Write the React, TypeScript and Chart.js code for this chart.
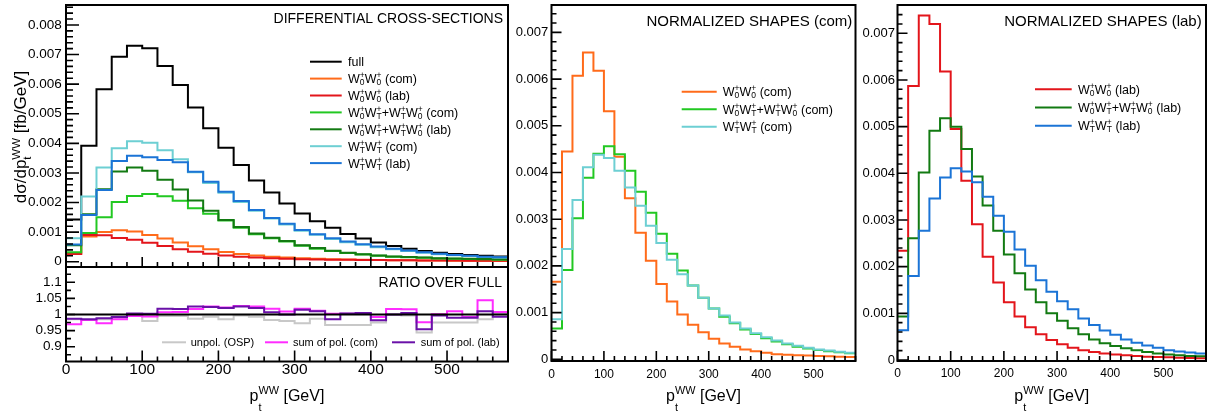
import { useEffect, useRef } from 'react';
import { Chart, registerables } from 'chart.js';

Chart.register(...registerables);

const FONT = '"Liberation Sans", Arial, Helvetica, sans-serif';
Chart.defaults.font.family = FONT;
Chart.defaults.color = '#000';

// ---------------- data ----------------
const binLow = [0, 20, 40, 60, 80, 100, 120, 140, 160, 180, 200, 220, 240, 260, 280, 300, 320, 340, 360, 380, 400, 420, 440, 460, 480, 500, 520, 540, 560];
const xUpper = 580;
const xTickValues = [0, 100, 200, 300, 400, 500];
const yTicksMain = [0, 0.001, 0.002, 0.003, 0.004, 0.005, 0.006, 0.007, 0.008];
const yTicksRatio = [0.9, 0.95, 1, 1.05, 1.1];
const yTicksNorm = [0, 0.001, 0.002, 0.003, 0.004, 0.005, 0.006, 0.007];

// differential cross-sections [fb/GeV]
const dxsFull = [0.00143, 0.00392, 0.00583, 0.00693, 0.0073, 0.00721, 0.00661, 0.00597, 0.00521, 0.00451, 0.00385, 0.00327, 0.00274, 0.00234, 0.00197, 0.00163, 0.00137, 0.00115, 0.00094, 0.00078, 0.00065, 0.00053, 0.00044, 0.00036, 0.0003, 0.00026, 0.00023, 0.0002, 0.00018];
const dxsW00Com = [0.00028, 0.00085, 0.001, 0.00106, 0.00102, 0.0009, 0.00078, 0.00065, 0.00052, 0.00042, 0.00033, 0.00026, 0.00021, 0.00017, 0.00014, 0.00012, 0.0001, 0.000085, 0.000075, 0.000065, 0.000058, 0.000052, 0.000047, 0.000042, 0.000038, 0.000034, 0.000031, 0.000028, 0.000026];
const dxsW00Lab = [0.00026, 0.0009, 0.00089, 0.0008, 0.00074, 0.00064, 0.00053, 0.00042, 0.00034, 0.00027, 0.00021, 0.00017, 0.00014, 0.000115, 0.000098, 0.000086, 0.000076, 0.000068, 0.000062, 0.000058, 0.000054, 0.00005, 0.000047, 0.000044, 0.000041, 0.000038, 0.000035, 0.000032, 0.00003];
const dxsW0TCom = [0.00032, 0.00097, 0.0015, 0.00202, 0.00222, 0.00229, 0.00221, 0.00206, 0.00181, 0.00162, 0.00139, 0.00115, 0.00093, 0.00079, 0.00068, 0.00054, 0.00044, 0.00036, 0.00029, 0.00024, 0.0002, 0.00017, 0.00015, 0.00013, 0.00011, 0.0001, 0.00009, 0.00008, 0.00007];
const dxsW0TLab = [0.00056, 0.0016, 0.00245, 0.00305, 0.00318, 0.00307, 0.00277, 0.00244, 0.00207, 0.00172, 0.00141, 0.00117, 0.00095, 0.00081, 0.0007, 0.00056, 0.00046, 0.00037, 0.0003, 0.00025, 0.00021, 0.00018, 0.00016, 0.00014, 0.00012, 0.00011, 0.0001, 0.00009, 0.00008];
const dxsWTTCom = [0.00079, 0.0022, 0.00318, 0.00383, 0.00407, 0.00402, 0.00377, 0.00346, 0.00302, 0.00266, 0.00233, 0.00202, 0.00172, 0.00146, 0.00126, 0.00105, 0.00091, 0.00077, 0.00066, 0.00057, 0.00049, 0.00042, 0.00036, 0.0003, 0.00025, 0.00022, 0.00019, 0.00016, 0.00014];
const dxsWTTLab = [0.00058, 0.00158, 0.00242, 0.0034, 0.00358, 0.00353, 0.00344, 0.00336, 0.00304, 0.0027, 0.00236, 0.00205, 0.00175, 0.00148, 0.00128, 0.00107, 0.00093, 0.00079, 0.00068, 0.00059, 0.00051, 0.00044, 0.00038, 0.00032, 0.00027, 0.00023, 0.0002, 0.00017, 0.00015];

// ratio over full
const ratioFull = [1, 1, 1, 1, 1, 1, 1, 1, 1, 1, 1, 1, 1, 1, 1, 1, 1, 1, 1, 1, 1, 1, 1, 1, 1, 1, 1, 1, 1];
const ratioUnpol = [0.985, 0.983, 0.985, 0.99, 1.0, 0.98, 0.995, 0.995, 0.987, 0.993, 0.985, 0.997, 0.993, 0.983, 0.98, 0.973, 0.987, 0.967, 0.967, 0.967, 0.975, 1.0, 0.997, 0.944, 0.975, 0.975, 0.975, 0.985, 1.003];
const ratioSumCom = [0.97, 0.983, 0.973, 0.985, 0.995, 0.994, 1.007, 1.008, 1.017, 1.025, 1.022, 1.026, 1.025, 1.018, 1.009, 1.018, 1.012, 1.002, 1.002, 1.002, 0.992, 1.017, 1.016, 0.976, 1.001, 1.01, 0.992, 1.044, 1.008];
const ratioSumLab = [0.987, 0.985, 0.988, 0.992, 1.003, 1.002, 1.018, 1.017, 1.025, 1.023, 1.02, 1.025, 1.02, 1.007, 1.0, 1.015, 1.01, 0.985, 1.003, 1.005, 0.982, 1.0, 1.005, 0.954, 0.997, 0.99, 0.99, 1.01, 0.993];

// normalized shapes (com)
const normW00Com = [0.00166, 0.00445, 0.00607, 0.00657, 0.00618, 0.00531, 0.00434, 0.00345, 0.00271, 0.00211, 0.00161, 0.00124, 0.00096, 0.00074, 0.00058, 0.00044, 0.00034, 0.00027, 0.00021, 0.00017, 0.00014, 0.00011, 0.0001, 0.000086, 0.000079, 0.000071, 0.000064, 0.000057, 0.00005];
const normW0TCom = [0.00066, 0.00191, 0.00302, 0.00389, 0.0044, 0.00456, 0.00439, 0.00404, 0.00359, 0.00314, 0.00269, 0.00226, 0.0019, 0.00158, 0.00132, 0.00109, 0.00091, 0.00077, 0.00064, 0.00054, 0.00045, 0.00038, 0.00032, 0.00027, 0.00023, 0.0002, 0.00017, 0.00015, 0.00013];
const normWTTCom = [0.00086, 0.00236, 0.00341, 0.00411, 0.00438, 0.00431, 0.00404, 0.00368, 0.00329, 0.00286, 0.00249, 0.00213, 0.00182, 0.00158, 0.00132, 0.00109, 0.00094, 0.00079, 0.00066, 0.00056, 0.00047, 0.0004, 0.00034, 0.00029, 0.00025, 0.00021, 0.00019, 0.00016, 0.00014];

// normalized shapes (lab)
const normW00Lab = [0.00234, 0.00587, 0.00738, 0.0072, 0.00618, 0.00495, 0.00384, 0.00291, 0.00221, 0.00166, 0.00124, 0.00093, 0.0007, 0.00055, 0.00043, 0.00034, 0.00026, 0.00021, 0.00017, 0.00014, 0.00012, 0.0001, 0.000086, 0.00007, 0.000064, 0.000057, 0.00005, 0.000043, 0.000036];
const normW0TLab = [0.00093, 0.00261, 0.00402, 0.00491, 0.00518, 0.005, 0.00452, 0.00393, 0.00331, 0.00277, 0.00226, 0.00186, 0.00151, 0.00124, 0.001, 0.00084, 0.00068, 0.00055, 0.00044, 0.00036, 0.0003, 0.00025, 0.00021, 0.00017, 0.00014, 0.00012, 0.0001, 0.000086, 0.000079];
const normWTTLab = [0.00064, 0.0018, 0.00277, 0.00346, 0.00391, 0.00411, 0.00404, 0.00381, 0.0035, 0.00309, 0.00275, 0.00237, 0.00202, 0.00171, 0.00146, 0.00126, 0.00109, 0.00089, 0.00075, 0.00063, 0.00054, 0.00044, 0.00037, 0.00031, 0.00026, 0.00021, 0.00018, 0.00016, 0.00014];

// ---------------- styles ----------------
const C_FULL = '#000000';
const C_W00_COM = '#ff6b1a';
const C_W00_LAB = '#e3151b';
const C_W0T_COM = '#22c822';
const C_W0T_LAB = '#127a12';
const C_WTT_COM = '#6dcfd3';
const C_WTT_LAB = '#1b74d6';
const C_UNPOL = '#c8c8c8';
const C_SUM_COM = '#ff2cff';
const C_SUM_LAB = '#6a11a8';

const L_FULL = 'full';
const L_W00_COM = 'W_{0}^{+}W_{0}^{+} (com)';
const L_W00_LAB = 'W_{0}^{+}W_{0}^{+} (lab)';
const L_W0T_COM = 'W_{0}^{+}W_{T}^{+}+W_{T}^{+}W_{0}^{+} (com)';
const L_W0T_LAB = 'W_{0}^{+}W_{T}^{+}+W_{T}^{+}W_{0}^{+} (lab)';
const L_WTT_COM = 'W_{T}^{+}W_{T}^{+} (com)';
const L_WTT_LAB = 'W_{T}^{+}W_{T}^{+} (lab)';
const X_TITLE = 'p_{t}^{WW} [GeV]';
const Y_TITLE = 'd\u03c3/dp_{t}^{WW} [fb/GeV]';

type RichOpts = { size: number; scale?: number; supDy?: number; subDy?: number };

function drawRich(ctx: CanvasRenderingContext2D, text: string, x: number, y: number, o: RichOpts, paint = true): number {
  const sc = o.scale ?? 0.68;
  const supDy = o.supDy ?? 0.4;
  const subDy = o.subDy ?? 0.18;
  let cx = x;
  let i = 0;
  const isScript = (k: number) => (text[k] === '_' || text[k] === '^') && text[k + 1] === '{';
  while (i < text.length) {
    if (isScript(i)) {
      let sub = '';
      let sup = '';
      while (i < text.length && isScript(i)) {
        const end = text.indexOf('}', i);
        const content = text.slice(i + 2, end);
        if (text[i] === '_') sub = content;
        else sup = content;
        i = end + 1;
      }
      ctx.font = `${o.size * sc}px ${FONT}`;
      const w = Math.max(ctx.measureText(sub).width, ctx.measureText(sup).width);
      if (paint) {
        if (sup) ctx.fillText(sup, cx, y - o.size * supDy);
        if (sub) ctx.fillText(sub, cx, y + o.size * subDy);
      }
      cx += w;
    } else {
      let j = i;
      while (j < text.length && !isScript(j)) j++;
      const seg = text.slice(i, j);
      ctx.font = `${o.size}px ${FONT}`;
      if (paint) ctx.fillText(seg, cx, y);
      cx += ctx.measureText(seg).width;
      i = j;
    }
  }
  return cx - x;
}

function drawCentered(ctx: CanvasRenderingContext2D, text: string, cx: number, y: number, o: RichOpts) {
  const w = drawRich(ctx, text, 0, 0, o, false);
  drawRich(ctx, text, cx - w / 2, y, o);
}

function legendRow(ctx: CanvasRenderingContext2D, color: string, x0: number, x1: number, tx: number, y: number, label: string, size: number) {
  ctx.strokeStyle = color;
  ctx.lineWidth = 2;
  ctx.beginPath();
  ctx.moveTo(x0, y);
  ctx.lineTo(x1, y);
  ctx.stroke();
  ctx.fillStyle = '#000';
  drawRich(ctx, label, tx, y + size * 0.36, { size });
}

type Series = { label: string; values: number[]; color: string };

type PanelSpec = {
  left: number;
  top: number;
  width: number;
  height: number;
  yAxisWidth: number;
  xAxisHeight: number;
  pad: { top: number; right: number; bottom: number };
  showX: boolean;
  yMin: number;
  yMax: number;
  yTicks: number[];
  yMinorStep: number;
  yFmt: (v: number) => string;
  yFont: number;
  yPad: number;
  xFont: number;
  xPad: number;
  yMajorLen: number;
  yMinorLen: number;
  xMajorLen: number;
  xMinorLen: number;
  series: Series[];
  decorate: (ctx: CanvasRenderingContext2D) => void;
};

const histPoints = (values: number[]) => [
  ...values.map((v, i) => ({ x: binLow[i], y: v })),
  { x: xUpper, y: values[values.length - 1] },
];

const fmtMain = (v: number) => (v === 0 ? '0' : v.toFixed(3));

const specs: PanelSpec[] = [
  {
    left: 0, top: 0, width: 520, height: 272,
    yAxisWidth: 66, xAxisHeight: 0,
    pad: { top: 5, right: 12, bottom: 5 },
    showX: false,
    yMin: -0.000179, yMax: 0.008675, yTicks: yTicksMain, yMinorStep: 0.0002, yFmt: fmtMain,
    yFont: 13.5, yPad: 4.3, xFont: 15.5, xPad: 0,
    yMajorLen: 13, yMinorLen: 7, xMajorLen: 10, xMinorLen: 5,
    series: [
      { label: L_FULL, values: dxsFull, color: C_FULL },
      { label: L_W00_COM, values: dxsW00Com, color: C_W00_COM },
      { label: L_W00_LAB, values: dxsW00Lab, color: C_W00_LAB },
      { label: L_W0T_COM, values: dxsW0TCom, color: C_W0T_COM },
      { label: L_W0T_LAB, values: dxsW0TLab, color: C_W0T_LAB },
      { label: L_WTT_COM, values: dxsWTTCom, color: C_WTT_COM },
      { label: L_WTT_LAB, values: dxsWTTLab, color: C_WTT_LAB },
    ],
    decorate: (ctx) => {
      ctx.fillStyle = '#000';
      ctx.textAlign = 'right';
      ctx.font = `14px ${FONT}`;
      ctx.fillText('DIFFERENTIAL CROSS-SECTIONS', 503, 23.3);
      ctx.textAlign = 'left';
      const items: [string, string][] = [
        [C_FULL, L_FULL], [C_W00_COM, L_W00_COM], [C_W00_LAB, L_W00_LAB], [C_W0T_COM, L_W0T_COM],
        [C_W0T_LAB, L_W0T_LAB], [C_WTT_COM, L_WTT_COM], [C_WTT_LAB, L_WTT_LAB],
      ];
      items.forEach(([c, l], i) => legendRow(ctx, c, 310, 341.7, 348, 61.7 + i * 16.9, l, 12.5));
      ctx.save();
      ctx.translate(26, 137);
      ctx.rotate(-Math.PI / 2);
      ctx.fillStyle = '#000';
      drawCentered(ctx, Y_TITLE, 0, 0, { size: 17, supDy: 0.38, subDy: 0.28 });
      ctx.restore();
    },
  },
  {
    left: 0, top: 262, width: 520, height: 150,
    yAxisWidth: 66, xAxisHeight: 50.5,
    pad: { top: 5, right: 12, bottom: 0 },
    showX: true,
    yMin: 0.854, yMax: 1.1475, yTicks: yTicksRatio, yMinorStep: 0.025, yFmt: (v) => String(v),
    yFont: 13.5, yPad: 4.3, xFont: 15.5, xPad: 0.5,
    yMajorLen: 9, yMinorLen: 5, xMajorLen: 11, xMinorLen: 5,
    series: [
      { label: 'unpol. (OSP)', values: ratioUnpol, color: C_UNPOL },
      { label: 'sum of pol. (com)', values: ratioSumCom, color: C_SUM_COM },
      { label: 'sum of pol. (lab)', values: ratioSumLab, color: C_SUM_LAB },
      { label: 'full', values: ratioFull, color: C_FULL },
    ],
    decorate: (ctx) => {
      ctx.fillStyle = '#000';
      ctx.textAlign = 'right';
      ctx.font = `14px ${FONT}`;
      ctx.fillText('RATIO OVER FULL', 502, 286.7);
      ctx.textAlign = 'left';
      legendRow(ctx, C_UNPOL, 162, 186, 190.7, 342.3, 'unpol. (OSP)', 11);
      legendRow(ctx, C_SUM_COM, 265, 288, 293, 342.3, 'sum of pol. (com)', 11);
      legendRow(ctx, C_SUM_LAB, 392, 415, 420.7, 342.3, 'sum of pol. (lab)', 11);
      ctx.fillStyle = '#000';
      drawCentered(ctx, X_TITLE, 287, 401, { size: 16, supDy: 0.42, subDy: 0.62 });
    },
  },
  {
    left: 512, top: 0, width: 348, height: 412,
    yAxisWidth: 39.5, xAxisHeight: 51,
    pad: { top: 5, right: 4.5, bottom: 0 },
    showX: true,
    yMin: -0.0000364, yMax: 0.007587, yTicks: yTicksNorm, yMinorStep: 0.0002, yFmt: fmtMain,
    yFont: 13, yPad: 3.2, xFont: 12, xPad: 8,
    yMajorLen: 10, yMinorLen: 5, xMajorLen: 10, xMinorLen: 5,
    series: [
      { label: L_W00_COM, values: normW00Com, color: C_W00_COM },
      { label: L_W0T_COM, values: normW0TCom, color: C_W0T_COM },
      { label: L_WTT_COM, values: normWTTCom, color: C_WTT_COM },
    ],
    decorate: (ctx) => {
      ctx.fillStyle = '#000';
      ctx.textAlign = 'right';
      ctx.font = `15px ${FONT}`;
      ctx.fillText('NORMALIZED SHAPES (com)', 852.3, 25.8);
      ctx.textAlign = 'left';
      const items: [string, string][] = [[C_W00_COM, L_W00_COM], [C_W0T_COM, L_W0T_COM], [C_WTT_COM, L_WTT_COM]];
      items.forEach(([c, l], i) => legendRow(ctx, c, 681.7, 716.7, 722.7, 91.7 + i * 17.5, l, 12.5));
      ctx.fillStyle = '#000';
      drawCentered(ctx, X_TITLE, 703.5, 401, { size: 16, supDy: 0.42, subDy: 0.62 });
    },
  },
  {
    left: 858, top: 0, width: 352, height: 412,
    yAxisWidth: 39.5, xAxisHeight: 51,
    pad: { top: 5, right: 4, bottom: 0 },
    showX: true,
    yMin: -0.0000214, yMax: 0.0076066, yTicks: yTicksNorm, yMinorStep: 0.0002, yFmt: fmtMain,
    yFont: 13, yPad: 2.5, xFont: 12, xPad: 7,
    yMajorLen: 10, yMinorLen: 5, xMajorLen: 10, xMinorLen: 5,
    series: [
      { label: L_W00_LAB, values: normW00Lab, color: C_W00_LAB },
      { label: L_W0T_LAB, values: normW0TLab, color: C_W0T_LAB },
      { label: L_WTT_LAB, values: normWTTLab, color: C_WTT_LAB },
    ],
    decorate: (ctx) => {
      ctx.fillStyle = '#000';
      ctx.textAlign = 'right';
      ctx.font = `15px ${FONT}`;
      ctx.fillText('NORMALIZED SHAPES (lab)', 1201.7, 25.7);
      ctx.textAlign = 'left';
      const items: [string, string][] = [[C_W00_LAB, L_W00_LAB], [C_W0T_LAB, L_W0T_LAB], [C_WTT_LAB, L_WTT_LAB]];
      items.forEach(([c, l], i) => legendRow(ctx, c, 1035, 1071.7, 1078, 89.3 + i * 18.2, l, 12.5));
      ctx.fillStyle = '#000';
      drawCentered(ctx, X_TITLE, 1051.75, 401, { size: 16, supDy: 0.42, subDy: 0.62 });
    },
  },
];

function Panel({ spec }: { spec: PanelSpec }) {
  const ref = useRef<HTMLCanvasElement>(null);
  useEffect(() => {
    const canvas = ref.current;
    if (!canvas) return;
    const framePlugin = {
      id: 'rootFrame',
      afterDraw(chart: any) {
        const { ctx, chartArea: a, scales } = chart;
        const xs = scales.x;
        const ys = scales.y;
        ctx.save();
        ctx.strokeStyle = '#000';
        ctx.lineWidth = 1.6;
        ctx.beginPath();
        const kMin = Math.ceil(spec.yMin / spec.yMinorStep - 1e-6);
        const kMax = Math.floor(spec.yMax / spec.yMinorStep + 1e-6);
        for (let k = kMin; k <= kMax; k++) {
          const v = k * spec.yMinorStep;
          const major = spec.yTicks.some((t) => Math.abs(t - v) < spec.yMinorStep * 0.01);
          const py = ys.getPixelForValue(v);
          ctx.moveTo(a.left, py);
          ctx.lineTo(a.left + (major ? spec.yMajorLen : spec.yMinorLen), py);
        }
        for (let k = 0; k <= xUpper / 20; k++) {
          const v = k * 20;
          const major = v % 100 === 0;
          const px = xs.getPixelForValue(v);
          ctx.moveTo(px, a.bottom);
          ctx.lineTo(px, a.bottom - (major ? spec.xMajorLen : spec.xMinorLen));
        }
        ctx.stroke();
        ctx.lineWidth = 2;
        ctx.strokeRect(a.left, a.top, a.right - a.left, a.bottom - a.top);
        ctx.translate(-spec.left, -spec.top);
        ctx.textBaseline = 'alphabetic';
        spec.decorate(ctx);
        ctx.restore();
      },
    };
    const n = spec.series.length;
    const chart = new Chart(canvas, {
      type: 'line',
      data: {
        datasets: spec.series.map((s, i) => ({
          label: s.label,
          data: histPoints(s.values),
          borderColor: s.color,
          backgroundColor: s.color,
          borderWidth: 2,
          pointRadius: 0,
          stepped: true,
          fill: false,
          order: n - i,
        })),
      },
      options: {
        responsive: false,
        animation: false,
        devicePixelRatio: 1,
        events: [],
        layout: { padding: { left: 0, top: spec.pad.top, right: spec.pad.right, bottom: spec.pad.bottom } },
        plugins: { legend: { display: false }, tooltip: { enabled: false }, title: { display: false } },
        scales: {
          x: {
            type: 'linear',
            min: 0,
            max: xUpper,
            bounds: 'data',
            display: spec.showX,
            grid: { display: false, drawTicks: false },
            border: { display: false },
            ticks: {
              font: { family: FONT, size: spec.xFont, lineHeight: 1 },
              color: '#000',
              padding: spec.xPad,
              maxRotation: 0,
              minRotation: 0,
              autoSkip: false,
              callback: (v: any) => String(v),
            },
            afterBuildTicks: (s: any) => {
              s.ticks = xTickValues.map((v) => ({ value: v }));
            },
            afterFit: (s: any) => {
              s.height = spec.xAxisHeight;
              s.paddingLeft = 0;
              s.paddingRight = 0;
              s.paddingTop = 0;
              s.paddingBottom = 0;
            },
          },
          y: {
            type: 'linear',
            min: spec.yMin,
            max: spec.yMax,
            bounds: 'data',
            grid: { display: false, drawTicks: false },
            border: { display: false },
            ticks: {
              font: { family: FONT, size: spec.yFont, lineHeight: 1 },
              color: '#000',
              padding: spec.yPad,
              autoSkip: false,
              callback: (v: any) => spec.yFmt(Number(v)),
            },
            afterBuildTicks: (s: any) => {
              s.ticks = spec.yTicks.map((v) => ({ value: v }));
            },
            afterFit: (s: any) => {
              s.width = spec.yAxisWidth;
              s.paddingLeft = 0;
              s.paddingRight = 0;
              s.paddingTop = 0;
              s.paddingBottom = 0;
            },
          },
        },
      } as any,
      plugins: [framePlugin],
    });
    return () => chart.destroy();
  }, [spec]);
  return (
    <canvas
      ref={ref}
      width={spec.width}
      height={spec.height}
      style={{ position: 'absolute', left: spec.left, top: spec.top, width: spec.width, height: spec.height }}
    />
  );
}

export default function App() {
  return (
    <div style={{ position: 'fixed', left: 0, top: 0, width: 1210, height: 412, background: '#fff', overflow: 'hidden' }}>
      {specs.map((s, i) => (
        <Panel key={i} spec={s} />
      ))}
    </div>
  );
}
